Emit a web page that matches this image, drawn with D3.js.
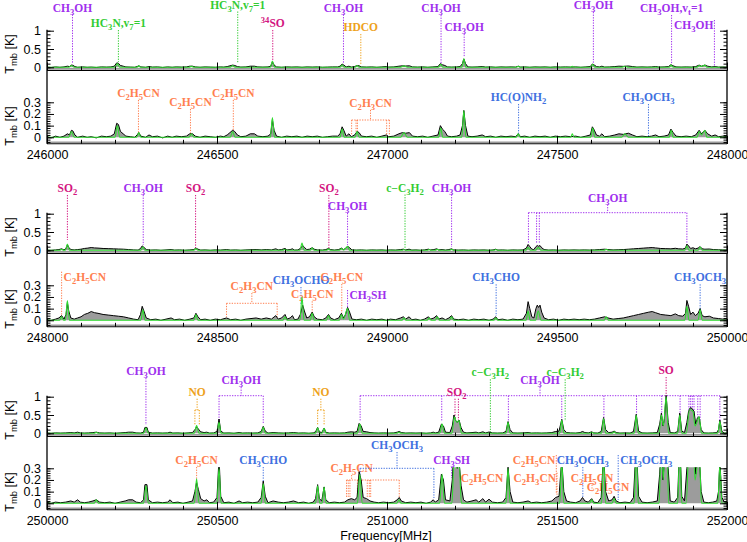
<!DOCTYPE html>
<html>
<head>
<meta charset="utf-8">
<script src="https://cdn.jsdelivr.net/npm/d3@7"></script>
<style>
body { margin: 0; background: #fff; }
svg { display: block; }
</style>
</head>
<body>
<svg id="chart" width="747" height="542"></svg>
<script>
var obs1 = [
246000,0.005, 246012,-0.005, 246025,0.01, 246038,0.0, 246050,0.01, 246060,0.03, 246066,0.02, 246072,0.06, 246076,0.055, 246082,0.02, 246090,0.0,
246105,0.01, 246118,0.0, 246130,0.005, 246145,-0.005, 246160,0.01, 246175,0.005, 246188,0.01, 246198,0.03, 246205,0.12, 246210,0.11, 246216,0.05,
246224,0.03, 246232,0.01, 246245,0.005, 246258,0.0, 246265,0.02, 246270,0.04, 246276,0.01, 246290,0.0, 246300,0.02, 246310,0.005, 246325,0.01,
246340,-0.005, 246355,0.01, 246368,0.0, 246380,0.01, 246395,0.005, 246410,0.01, 246420,0.03, 246428,0.03, 246436,0.01, 246450,0.0, 246465,0.01,
246480,0.005, 246495,0.0, 246510,0.01, 246520,0.005, 246530,0.02, 246538,0.04, 246546,0.06, 246552,0.05, 246560,0.02, 246570,0.005, 246585,0.01,
246598,0.03, 246610,0.03, 246620,0.01, 246635,0.005, 246650,0.01, 246658,0.03, 246663,0.15, 246668,0.06, 246675,0.01, 246690,0.0, 246705,0.01,
246720,0.005, 246735,0.01, 246750,0.0, 246765,0.01, 246780,0.005, 246795,0.01, 246810,0.0, 246825,0.005, 246840,0.01, 246855,0.01, 246862,0.03,
246868,0.09, 246873,0.06, 246880,0.01, 246888,0.03, 246895,0.005, 246905,0.02, 246912,0.05, 246918,0.04, 246925,0.01, 246940,0.005, 246955,0.01,
246970,0.0, 246985,0.01, 246998,0.02, 247005,0.005, 247020,0.01, 247035,0.03, 247045,0.04, 247055,0.035, 247066,0.04, 247075,0.01, 247090,0.005,
247105,0.01, 247120,0.0, 247135,0.01, 247150,0.02, 247157,0.1, 247163,0.07, 247170,0.05, 247178,0.01, 247190,0.005, 247205,0.01, 247215,0.02,
247222,0.1, 247226,0.23, 247231,0.1, 247238,0.01, 247250,0.005, 247265,0.01, 247280,0.02, 247290,0.005, 247305,0.01, 247320,0.0, 247335,0.01,
247350,0.005, 247365,0.01, 247378,0.005, 247386,0.03, 247393,0.005, 247405,0.01, 247420,0.0, 247435,0.01, 247450,0.005, 247465,0.01, 247480,0.0,
247495,0.01, 247510,0.005, 247525,0.01, 247540,0.005, 247555,0.01, 247570,0.0, 247585,0.01, 247598,0.02, 247604,0.09, 247610,0.06, 247616,0.02,
247625,0.01, 247632,0.03, 247640,0.005, 247655,0.01, 247670,0.02, 247682,0.03, 247695,0.025, 247710,0.035, 247722,0.02, 247735,0.005, 247750,0.01,
247765,0.005, 247778,0.01, 247790,0.02, 247800,0.005, 247815,0.01, 247828,0.02, 247835,0.07, 247842,0.04, 247850,0.01, 247865,0.005, 247880,0.01,
247895,0.005, 247908,0.02, 247918,0.06, 247925,0.03, 247935,0.06, 247943,0.03, 247955,0.01, 247965,0.02, 247975,0.005, 247988,0.01, 248000,0.005
];
var obs2 = [
248000,0.005, 248012,0.0, 248025,0.01, 248035,0.02, 248043,0.04, 248050,0.01, 248056,0.05, 248060,0.15, 248064,0.08, 248070,0.02, 248080,0.01,
248090,0.02, 248100,0.03, 248110,0.05, 248120,0.06, 248130,0.075, 248140,0.065, 248150,0.06, 248165,0.05, 248180,0.045, 248195,0.04, 248210,0.035,
248225,0.03, 248240,0.02, 248255,0.01, 248268,0.005, 248275,0.05, 248280,0.12, 248285,0.08, 248292,0.02, 248305,0.005, 248320,0.01, 248335,0.0,
248350,0.01, 248365,0.02, 248375,0.005, 248390,0.01, 248405,0.0, 248420,0.01, 248432,0.02, 248438,0.06, 248444,0.03, 248452,0.005, 248465,0.01,
248480,0.0, 248495,0.01, 248510,0.005, 248528,0.02, 248540,0.005, 248555,0.01, 248570,0.0, 248585,0.01, 248600,0.015, 248615,0.02, 248630,0.01,
248645,0.02, 248660,0.01, 248673,0.04, 248680,0.01, 248690,0.02, 248700,0.05, 248706,0.01, 248715,0.02, 248722,0.04, 248728,0.005, 248738,0.01,
248745,0.05, 248752,0.13, 248757,0.08, 248764,0.02, 248772,0.03, 248780,0.07, 248786,0.03, 248795,0.01, 248810,0.005, 248820,0.02, 248828,0.05,
248834,0.02, 248845,0.005, 248858,0.02, 248866,0.06, 248872,0.02, 248878,0.05, 248884,0.11, 248890,0.07, 248897,0.01, 248910,0.005, 248925,0.01,
248940,0.0, 248955,0.01, 248970,0.005, 248985,0.01, 248998,0.0, 249010,0.01, 249025,0.005, 249040,0.02, 249048,0.03, 249055,0.01, 249065,0.03,
249073,0.005, 249085,0.01, 249098,0.0, 249110,0.01, 249122,0.03, 249128,0.01, 249138,0.02, 249146,0.04, 249152,0.01, 249162,0.02, 249172,0.005,
249182,0.02, 249190,0.04, 249196,0.01, 249210,0.005, 249225,0.01, 249240,0.0, 249255,0.01, 249270,0.005, 249285,0.01, 249300,0.0, 249312,0.01,
249320,0.03, 249326,0.005, 249340,0.01, 249355,0.0, 249370,0.01, 249385,0.005, 249400,0.01, 249410,0.06, 249415,0.16, 249420,0.1, 249426,0.03,
249432,0.02, 249438,0.1, 249442,0.13, 249446,0.11, 249450,0.13, 249455,0.07, 249462,0.02, 249475,0.005, 249490,0.01, 249505,0.0, 249520,0.01,
249535,0.005, 249550,0.01, 249565,0.005, 249580,0.01, 249595,0.005, 249610,0.01, 249625,0.02, 249640,0.03, 249650,0.02, 249665,0.01, 249680,0.015,
249695,0.02, 249710,0.03, 249725,0.04, 249740,0.05, 249755,0.06, 249770,0.07, 249780,0.075, 249790,0.065, 249805,0.05, 249820,0.045, 249835,0.04,
249848,0.055, 249858,0.04, 249870,0.035, 249878,0.06, 249882,0.17, 249887,0.12, 249893,0.05, 249900,0.07, 249907,0.04, 249915,0.06, 249921,0.1,
249927,0.04, 249935,0.03, 249948,0.035, 249960,0.02, 249975,0.015, 249988,0.01, 250000,0.01
];
var obs3 = [
250000,0.01, 250012,0.0, 250025,0.01, 250040,0.005, 250055,0.01, 250070,0.02, 250080,0.01, 250090,0.03, 250098,0.01, 250110,0.005, 250122,0.01,
250135,0.02, 250145,0.03, 250155,0.01, 250170,0.005, 250185,0.01, 250200,0.0, 250215,0.01, 250230,0.02, 250240,0.03, 250252,0.03, 250262,0.01,
250275,0.005, 250284,0.03, 250288,0.16, 250294,0.16, 250298,0.03, 250310,0.005, 250325,0.01, 250340,0.005, 250355,0.01, 250362,0.03, 250370,0.005,
250385,0.01, 250400,0.0, 250415,0.01, 250428,0.02, 250435,0.1, 250440,0.18, 250445,0.12, 250452,0.04, 250462,0.02, 250470,0.03, 250478,0.005,
250490,0.01, 250500,0.05, 250506,0.39, 250511,0.06, 250520,0.005, 250535,0.01, 250550,0.0, 250565,0.02, 250575,0.005, 250590,0.01, 250605,0.005,
250620,0.01, 250630,0.05, 250636,0.19, 250642,0.06, 250650,0.005, 250665,0.02, 250680,0.01, 250695,0.005, 250710,0.01, 250725,0.02, 250740,0.005,
250755,0.01, 250770,0.0, 250783,0.01, 250790,0.04, 250796,0.16, 250801,0.04, 250808,0.02, 250815,0.14, 250820,0.03, 250830,0.005, 250845,0.01,
250860,0.005, 250875,0.01, 250885,0.03, 250895,0.04, 250905,0.03, 250912,0.05, 250918,0.27, 250924,0.2, 250930,0.05, 250940,0.04, 250950,0.02,
250962,0.01, 250975,0.005, 250990,0.01, 251005,0.005, 251020,0.01, 251030,0.03, 251036,0.05, 251042,0.02, 251055,0.005, 251070,0.01, 251085,0.005,
251100,0.01, 251115,0.0, 251128,0.01, 251136,0.03, 251142,0.01, 251152,0.03, 251160,0.25, 251166,0.2, 251172,0.03, 251185,0.02, 251192,0.2,
251197,0.5, 251202,0.35, 251207,0.3, 251212,0.36, 251218,0.15, 251225,0.03, 251235,0.01, 251250,0.02, 251262,0.03, 251270,0.01, 251282,0.04,
251290,0.01, 251300,0.035, 251310,0.01, 251325,0.005, 251340,0.01, 251350,0.05, 251356,0.32, 251362,0.1, 251370,0.01, 251385,0.005, 251400,0.01,
251415,0.02, 251425,0.005, 251440,0.01, 251455,0.005, 251470,0.01, 251485,0.02, 251496,0.05, 251506,0.06, 251514,0.38, 251520,0.1, 251528,0.02,
251540,0.01, 251555,0.005, 251568,0.02, 251575,0.05, 251582,0.02, 251592,0.01, 251602,0.04, 251608,0.01, 251620,0.005, 251630,0.05, 251637,0.43,
251643,0.1, 251652,0.02, 251662,0.03, 251668,0.06, 251674,0.02, 251685,0.005, 251700,0.01, 251715,0.005, 251725,0.05, 251733,0.52, 251740,0.06,
251750,0.01, 251765,0.005, 251780,0.01, 251795,0.02, 251802,0.25, 251807,0.55, 251812,0.2, 251816,0.4, 251821,1.05, 251827,0.3, 251833,0.02,
251845,0.01, 251855,0.05, 251861,0.55, 251867,0.06, 251875,0.02, 251882,0.3, 251887,0.6, 251892,0.7, 251897,0.68, 251903,0.6, 251908,0.25,
251913,0.42, 251918,0.45, 251924,0.1, 251932,0.01, 251945,0.005, 251958,0.01, 251970,0.02, 251975,0.1, 251979,0.36, 251985,0.05, 251992,0.01,
252000,0.005
];

// ---- model spectra (green), flat [MHz, K] vertices ----
var mod1 = [
246000,0, 246064,0, 246072,0.05, 246080,0, 246200,0, 246207,0.1, 246214,0, 246264,0, 246270,0.04, 246276,0, 246418,0, 246425,0.03, 246432,0,
246539,0, 246546,0.05, 246553,0, 246657,0, 246663,0.17, 246669,0, 246862,0, 246868,0.07, 246874,0, 246906,0, 246912,0.05, 246918,0,
247040,0, 247050,0.04, 247060,0, 247152,0, 247158,0.08, 247164,0, 247220,0, 247226,0.23, 247232,0, 247380,0, 247386,0.03, 247392,0,
247540,0, 247545,0.03, 247550,0, 247599,0, 247605,0.08, 247611,0, 247690,0, 247700,0.03, 247710,0, 247830,0, 247836,0.06, 247842,0,
247912,0, 247918,0.05, 247925,0.02, 247935,0.06, 247941,0, 248000,0
];
var mod2 = [
248000,0, 248037,0, 248043,0.03, 248049,0, 248054,0, 248060,0.17, 248066,0, 248276,0, 248282,0.09, 248288,0, 248432,0, 248438,0.05, 248444,0,
248694,0, 248700,0.03, 248706,0, 248744,0, 248750,0.2, 248756,0, 248774,0, 248780,0.06, 248786,0, 248822,0, 248828,0.04, 248834,0,
248860,0, 248866,0.05, 248872,0.01, 248884,0.1, 248890,0, 249044,0, 249050,0.02, 249056,0, 249118,0, 249124,0.02, 249130,0, 249142,0,
249148,0.03, 249154,0, 249184,0, 249190,0.03, 249196,0, 249314,0, 249320,0.02, 249326,0, 249409,0, 249415,0.08, 249421,0, 249437,0,
249445,0.08, 249453,0, 249639,0, 249645,0.03, 249651,0, 249876,0, 249882,0.12, 249888,0, 249915,0, 249921,0.09, 249927,0, 250000,0
];
var mod3 = [
250000,0, 250139,0, 250145,0.03, 250151,0, 250284,0, 250291,0.15, 250298,0, 250433,0, 250440,0.21, 250447,0, 250500,0, 250506,0.3, 250512,0,
250630,0, 250636,0.17, 250642,0, 250790,0, 250796,0.15, 250802,0, 250809,0, 250815,0.14, 250821,0, 250913,0, 250920,0.25, 250927,0,
251029,0, 251035,0.03, 251041,0, 251155,0, 251162,0.25, 251169,0, 251191,0, 251198,0.45, 251205,0.3, 251212,0.35, 251219,0, 251350,0,
251356,0.3, 251362,0, 251508,0, 251514,0.36, 251520,0, 251596,0, 251602,0.03, 251608,0, 251631,0, 251637,0.4, 251643,0, 251662,0,
251668,0.04, 251674,0, 251727,0, 251733,0.5, 251739,0, 251800,0, 251807,0.5, 251813,0.2, 251821,1.0, 251828,0, 251855,0, 251861,0.5,
251867,0, 251880,0, 251890,0.65, 251900,0.6, 251906,0.2, 251918,0.45, 251925,0, 251973,0, 251979,0.33, 251985,0, 252000,0
];

// ---- line identifications: species, colour key, rest frequencies (MHz) ----
var ids1 = [
  {s:"CH_3OH", c:"p", f:[246075]},
  {s:"HC_3N,v_7=1", c:"g", f:[246210]},
  {s:"HC_3N,v_7=1", c:"g", f:[246561]},
  {s:"^{34}SO", c:"m", f:[246664]},
  {s:"CH_3OH", c:"p", f:[246872]},
  {s:"HDCO", c:"o", f:[246923]},
  {s:"CH_3OH", c:"p", f:[247159]},
  {s:"CH_3OH", c:"p", f:[247227]},
  {s:"CH_3OH", c:"p", f:[247607]},
  {s:"CH_3OH,v_t=1", c:"p", f:[247837]},
  {s:"CH_3OH", c:"p", f:[247963]},
  {s:"C_2H_5CN", c:"r", f:[246269]},
  {s:"C_2H_5CN", c:"r", f:[246422]},
  {s:"C_2H_5CN", c:"r", f:[246548]},
  {s:"C_2H_3CN", c:"r", f:[246896, 246909, 246913, 246999, 247007]},
  {s:"HC(O)NH_2", c:"b", f:[247387]},
  {s:"CH_3OCH_3", c:"b", f:[247769]}
];
var ids2 = [
  {s:"SO_2", c:"m", f:[248060]},
  {s:"CH_3OH", c:"p", f:[248283]},
  {s:"SO_2", c:"m", f:[248437]},
  {s:"SO_2", c:"m", f:[248829]},
  {s:"CH_3OH", c:"p", f:[248884]},
  {s:"c\u2212C_3H_2", c:"g", f:[249053]},
  {s:"CH_3OH", c:"p", f:[249190]},
  {s:"CH_3OH", c:"p", f:[249416, 249440, 249448, 249882]},
  {s:"C_2H_5CN", c:"r", f:[248043]},
  {s:"C_2H_3CN", c:"r", f:[248528, 248677]},
  {s:"CH_3OCHO", c:"b", f:[248747]},
  {s:"C_2H_5CN", c:"r", f:[248867]},
  {s:"C_2H_5CN", c:"r", f:[248780]},
  {s:"CH_3SH", c:"p", f:[248884]},
  {s:"CH_3CHO", c:"b", f:[249321]},
  {s:"CH_3OCH_3", c:"b", f:[249921]}
];
var ids3 = [
  {s:"CH_3OH", c:"p", f:[250291]},
  {s:"NO", c:"o", f:[250435, 250448]},
  {s:"CH_3OH", c:"p", f:[250506, 250636]},
  {s:"NO", c:"o", f:[250796, 250815]},
  {s:"CH_3OH", c:"p", f:[250921, 251161, 251357, 251514, 251638, 251734, 251808, 251862, 251888, 251893, 251898, 251903, 251914, 251921, 251979]},
  {s:"SO_2", c:"m", f:[251200, 251210]},
  {s:"c\u2212C_3H_2", c:"g", f:[251304]},
  {s:"c\u2212C_3H_2", c:"g", f:[251524]},
  {s:"SO", c:"m", f:[251821]},
  {s:"C_2H_5CN", c:"r", f:[250440]},
  {s:"CH_3CHO", c:"b", f:[250636]},
  {s:"C_2H_5CN", c:"r", f:[250881, 250886, 250891, 250913, 250924, 250942, 250948, 250952, 251036]},
  {s:"CH_3OCH_3", c:"b", f:[250921, 251138]},
  {s:"CH_3SH", c:"p", f:[251190]},
  {s:"C_2H_5CN", c:"r", f:[251211]},
  {s:"C_2H_5CN", c:"r", f:[251498]},
  {s:"C_2H_3CN", c:"r", f:[251500]},
  {s:"CH_3OCH_3", c:"b", f:[251576]},
  {s:"C_2H_5CN", c:"r", f:[251603]},
  {s:"C_2H_5CN", c:"r", f:[251650]},
  {s:"CH_3OCH_3", c:"b", f:[251680]}
];

// label placement per id (row-relative px): [text baseline, line bottom, bracket y, anchor, label x freq]
var place1 = [
  [11.5,63], [27,62], [8.5,63], [27,60], [11.5,63], [31,64], [12,63], [31,57], [9,63], [12,64], [29,66,null,"e"],
  [97,133], [106,134], [97,130], [107,135,120], [101,135], [101,137]
];
var place2 = [
  [9,57], [9,62], [9,65], [9,65], [27,62], [8.5,65], [8.5,64], [18.5,60,29.7],
  [97.7,134,null,"s"], [107,134,120.3], [101,122], [98,130], [115.3,133], [116,127,null,"s"], [98.3,133], [98.3,129]
];
var place3 = [
  [9,59], [29.7,59,44], [18,57,29.7], [29.7,59,44], [18,55,29.7], [29.7,54], [10.3,66], [10.3,55], [8,30],
  [98,114], [98,117], [106,132,114,null,250896], [83,132,102.3], [98,112], [115.7,125,null,"s"], [98,128,null,"e"],
  [115.7,130,null,"e"], [98,132], [115.7,126], [124.7,128], [98,134,null,"s"]
];

var rowRange = [[246000, 248000], [248000, 250000], [250000, 252000]];
var topTicks = [0, 0.5, 1];
var botTicks = [0, 0.1, 0.2, 0.3];

var colors = {p:"#a030ee", g:"#33cc33", m:"#d3157f", o:"#eea21c", r:"#ff7f50", b:"#4070e0"};

// ---- layout ----
var xL = 47, xR = 727, rowStep = 183;
var sepY = 70.5, axY = 143.8;
var font = "'Liberation Sans', Arial, sans-serif";
var labFont = "'Liberation Serif', 'Times New Roman', serif";

function pairs(a) {
  var r = [];
  for (var i = 0; i < a.length; i += 2) r.push([a[i], a[i + 1]]);
  return r;
}

// writes "CH_3OH", "^{34}SO" style strings as tspans
function rich(text, s) {
  var shift = 0;
  s.match(/_\{[^}]*\}|_.|\^\{[^}]*\}|\^.|[^_^]+/g).forEach(function (p) {
    var t = p, target = 0, small = false;
    if (p[0] === "_" || p[0] === "^") {
      t = p[1] === "{" ? p.slice(2, -1) : p.slice(1);
      target = p[0] === "_" ? 3 : -4;
      small = true;
    }
    var ts = text.append("tspan").attr("dy", target - shift).text(t);
    if (small) ts.attr("font-size", "75%");
    shift = target;
  });
}

var svg = d3.select("#chart");
var rows = [
  {obs: pairs(obs1), mod: pairs(mod1), ids: ids1, place: place1},
  {obs: pairs(obs2), mod: pairs(mod2), ids: ids2, place: place2},
  {obs: pairs(obs3), mod: pairs(mod3), ids: ids3, place: place3}
];

rows.forEach(function (r, i) {
  var g = svg.append("g").attr("transform", "translate(0," + (i * rowStep) + ")");
  var x = d3.scaleLinear().domain(rowRange[i]).range([xL, xR]);
  var yT = d3.scaleLinear().domain([0, 1]).range([67.3, 30.7]);
  var yB = d3.scaleLinear().domain([0, 0.3]).range([137.3, 102.3]);

  var defs = g.append("defs");
  defs.append("clipPath").attr("id", "ct" + i).append("rect")
    .attr("x", xL).attr("y", yT(1.03)).attr("width", xR - xL).attr("height", sepY - 1 - yT(1.03));
  defs.append("clipPath").attr("id", "cb" + i).append("rect")
    .attr("x", xL).attr("y", yB(0.31)).attr("width", xR - xL).attr("height", axY - yB(0.31));

  // line identifications
  var ann = g.append("g");
  r.ids.forEach(function (d, k) {
    var p = r.place[k];
    var col = colors[d.c];
    var ly = p[0], y2 = p[1], by = p[2], anc = p[3];
    var fx = d.f.map(x);
    var lx = p[4] ? x(p[4]) : (d3.min(fx) + d3.max(fx)) / 2;
    var dotted = function (x1, y1, x2, y2b) {
      ann.append("line").attr("x1", x1).attr("y1", y1).attr("x2", x2).attr("y2", y2b)
        .attr("stroke", col).attr("stroke-width", 1).attr("stroke-dasharray", "1.3,1.3");
    };
    var t = ann.append("text").attr("y", ly).attr("fill", col)
      .attr("font-family", labFont).attr("font-weight", "bold").attr("font-size", 11.5);
    if (anc === "s") { t.attr("x", lx + 2).attr("text-anchor", "start"); }
    else if (anc === "e") { t.attr("x", lx - 1).attr("text-anchor", "end"); }
    else { t.attr("x", lx).attr("text-anchor", "middle"); }
    rich(t, d.s);
    var y1 = anc ? ly - 9 : ly + 3;
    if (by != null) {
      dotted(lx, y1, lx, by);
      dotted(d3.min(fx), by, d3.max(fx), by);
      fx.forEach(function (v) { dotted(v, by, v, y2); });
    } else {
      fx.forEach(function (v) { dotted(v, y1, v, y2); });
    }
  });

  // spectra in both panels
  [[yT, "ct" + i], [yB, "cb" + i]].forEach(function (pp) {
    var y = pp[0];
    var pg = g.append("g").attr("clip-path", "url(#" + pp[1] + ")");
    pg.append("path").datum(r.obs)
      .attr("d", d3.area().x(function (d) { return x(d[0]); }).y0(y(0)).y1(function (d) { return y(d[1]); }))
      .attr("fill", "#9c9c9c");
    pg.append("path").datum(r.obs)
      .attr("d", d3.line().x(function (d) { return x(d[0]); }).y(function (d) { return y(d[1]); }))
      .attr("fill", "none").attr("stroke", "#000").attr("stroke-width", 1);
    pg.append("path").datum(r.mod)
      .attr("d", d3.line().x(function (d) { return x(d[0]); }).y(function (d) { return y(d[1]); }).curve(d3.curveMonotoneX))
      .attr("fill", "none").attr("stroke", "#2fdc2f").attr("stroke-width", 1.1);
  });

  // frame
  [xL, xR].forEach(function (xx) {
    g.append("line").attr("x1", xx).attr("x2", xx).attr("y1", yT(1) - 1).attr("y2", axY)
      .attr("stroke", "#000").attr("stroke-width", 1.3);
  });
  [sepY, axY].forEach(function (yy) {
    g.append("line").attr("x1", xL).attr("x2", xR).attr("y1", yy - 1.6).attr("y2", yy - 1.6)
      .attr("stroke", "#999").attr("stroke-width", 1.6);
    g.append("line").attr("x1", xL).attr("x2", xR).attr("y1", yy).attr("y2", yy)
      .attr("stroke", "#000").attr("stroke-width", 1.1);
  });

  // y axes (left labelled, right ticks only)
  function yAxes(y, minorVals, majorVals, fmt) {
    var specs = [
      [d3.axisLeft, xL, -3.5, minorVals, false], [d3.axisLeft, xL, -7, majorVals, true],
      [d3.axisRight, xR, -3.5, minorVals, false], [d3.axisRight, xR, -7, majorVals, false]
    ];
    specs.forEach(function (s) {
      var ax = s[0](y).tickValues(s[3]).tickSize(s[2]).tickSizeOuter(0).tickPadding(6)
        .tickFormat(s[4] ? fmt : "");
      var ag = g.append("g").attr("transform", "translate(" + s[1] + ",0)").call(ax);
      ag.select(".domain").remove();
      ag.selectAll("line").attr("stroke-width", 1);
      ag.selectAll("text").attr("font-family", font).attr("font-size", 12.5).attr("fill", "#000");
    });
  }
  yAxes(yT, d3.range(0, 11).map(function (v) { return v / 10; }), topTicks, d3.format(""));
  yAxes(yB, d3.range(-2, 16).map(function (v) { return v / 50; }), botTicks, d3.format(""));

  // x ticks on both panel bottoms
  var lo = rowRange[i][0], hi = rowRange[i][1];
  var minorX = d3.range(lo, hi + 1, 100);
  var majorX = d3.range(lo, hi + 1, 500);
  [sepY, axY].forEach(function (yy, j) {
    [[minorX, -4], [majorX, -8]].forEach(function (s, m) {
      var ax = d3.axisBottom(x).tickValues(s[0]).tickSize(s[1]).tickSizeOuter(0).tickPadding(6)
        .tickFormat(j === 1 && m === 1 ? d3.format("d") : "");
      var ag = g.append("g").attr("transform", "translate(0," + yy + ")").call(ax);
      ag.select(".domain").remove();
      ag.selectAll("text").attr("font-family", font).attr("font-size", 12.5).attr("fill", "#000");
    });
  });

  // y titles
  [[54], [126]].forEach(function (c) {
    var t = g.append("text").attr("transform", "translate(14," + c[0] + ") rotate(-90)")
      .attr("text-anchor", "middle").attr("font-family", font).attr("font-size", 12.5);
    rich(t, "T_{mb} [K]");
  });
});

svg.append("text").attr("x", 386).attr("y", 540).attr("text-anchor", "middle")
  .attr("font-family", font).attr("font-size", 12.5).text("Frequency[MHz]");
</script>
</body>
</html>
